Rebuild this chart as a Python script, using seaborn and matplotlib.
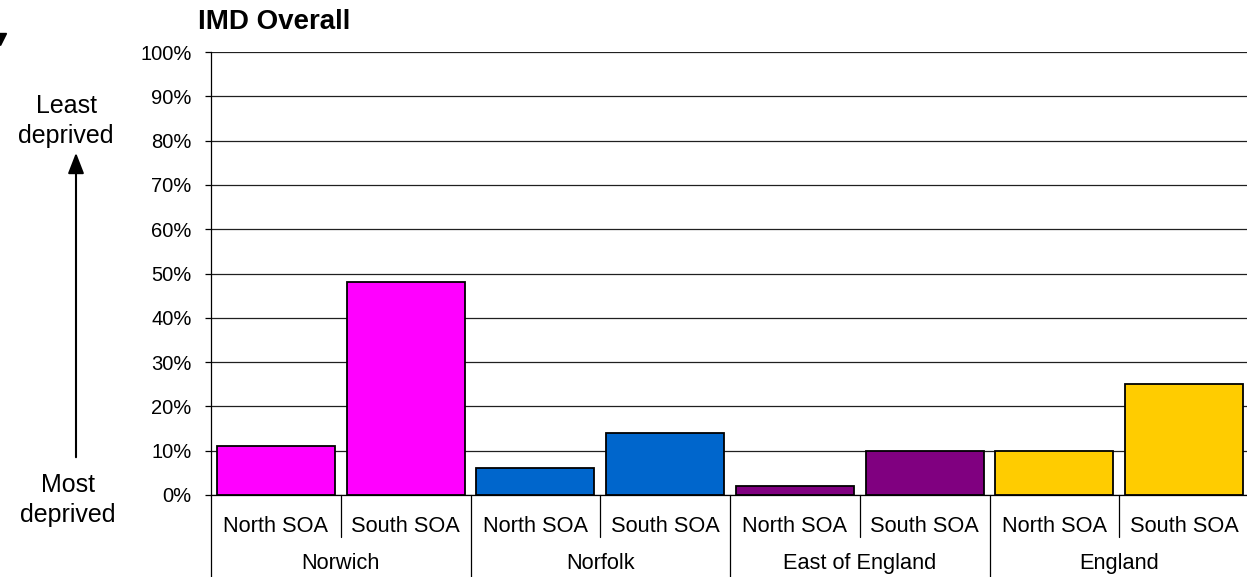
import matplotlib
matplotlib.use("Agg")
import matplotlib.pyplot as plt
import matplotlib.transforms as mtransforms
from matplotlib.lines import Line2D
import seaborn as sns
import pandas as pd
import numpy as np

# ---- data ----
groups = ["Norwich", "Norwich", "Norfolk", "Norfolk",
          "East of England", "East of England", "England", "England"]
areas = ["North SOA", "South SOA"] * 4
values = [11, 48, 6, 14, 2, 10, 10, 25]
group_order = ["Norwich", "Norfolk", "East of England", "England"]
group_colors = ["#FF00FF", "#0066CC", "#800080", "#FFCC00"]
yticks = [0, 10, 20, 30, 40, 50, 60, 70, 80, 90, 100]
title = "IMD Overall"

df = pd.DataFrame({
    "key": [f"{g}|{a}" for g, a in zip(groups, areas)],
    "group": groups,
    "area": areas,
    "value": values,
})

sns.set_theme(style="white")
plt.rcParams["font.family"] = ["Liberation Sans", "DejaVu Sans"]
plt.rcParams["text.color"] = "black"
plt.rcParams["xtick.color"] = "black"
plt.rcParams["ytick.color"] = "black"
plt.rcParams["xtick.labelcolor"] = "black"
plt.rcParams["ytick.labelcolor"] = "black"

W, H = 1247, 577
fig = plt.figure(figsize=(W / 100, H / 100), dpi=100)
ax = fig.add_axes([211 / W, 1 - 495 / H, (1249 - 211) / W, (495 - 52) / H])

sns.barplot(data=df, x="key", y="value", hue="group", hue_order=group_order,
            palette=dict(zip(group_order, group_colors)), dodge=False,
            width=0.91, edgecolor="black", linewidth=1.3, saturation=1,
            legend=False, ax=ax, zorder=3)

ax.set_ylim(0, 100)
ax.set_xlim(-0.5, len(values) - 0.5)
ax.set_yticks(yticks)
ax.set_yticklabels([f"{v}%" for v in yticks], fontsize=14.5)
ax.yaxis.grid(True, color="#202020", linewidth=0.9)
ax.set_axisbelow(True)
ax.tick_params(axis="y", left=True, length=4, width=0.9, color="black",
               pad=10, labelcolor="black")
ax.set_xticks(range(len(values)))
ax.set_xticklabels(areas, fontsize=15.7)
ax.tick_params(axis="x", bottom=False, pad=9, labelcolor="black")
ax.set_xlabel("")
ax.set_ylabel("")
for s in ["top", "right"]:
    ax.spines[s].set_visible(False)
for s in ["left", "bottom"]:
    ax.spines[s].set_color("black")
    ax.spines[s].set_linewidth(0.9)

trans = mtransforms.blended_transform_factory(ax.transData, ax.transAxes)
# separators under the axis
n = len(values)
for i in range(n + 1):
    xb = i - 0.5
    y0 = -0.185 if i % 2 == 0 else -0.095
    ax.plot([xb, xb], [0, y0], transform=trans, color="black", lw=0.9,
            clip_on=False)
# group labels
for gi, g in enumerate(group_order):
    ax.text(gi * 2 + 0.5, -0.154, g, transform=trans, ha="center",
            va="center", fontsize=15.7, color="black")

fig.text(198 / W, 1 - 22 / H, title, fontsize=20, fontweight="bold",
         ha="left", va="center", color="black")

fig.text(66 / W, 1 - 121 / H, "Least\ndeprived", fontsize=18, ha="center",
         va="center", linespacing=1.3, multialignment="center", color="black")
fig.text(68 / W, 1 - 500 / H, "Most\ndeprived", fontsize=18, ha="center",
         va="center", linespacing=1.35, multialignment="center", color="black")

# small cut-off arrowhead at the top-left edge
fig.add_artist(Line2D([0 / W], [1 - 39 / H], transform=fig.transFigure,
                      marker="v", markersize=8, color="black", linestyle="none"))

fig.patches.append(matplotlib.patches.FancyArrowPatch(
    (76 / W, 1 - 460 / H), (76 / W, 1 - 150 / H), transform=fig.transFigure,
    arrowstyle="-|>,head_length=0.9,head_width=0.35", mutation_scale=14,
    color="black", lw=1.5))

fig.savefig("out.png", dpi=100)
